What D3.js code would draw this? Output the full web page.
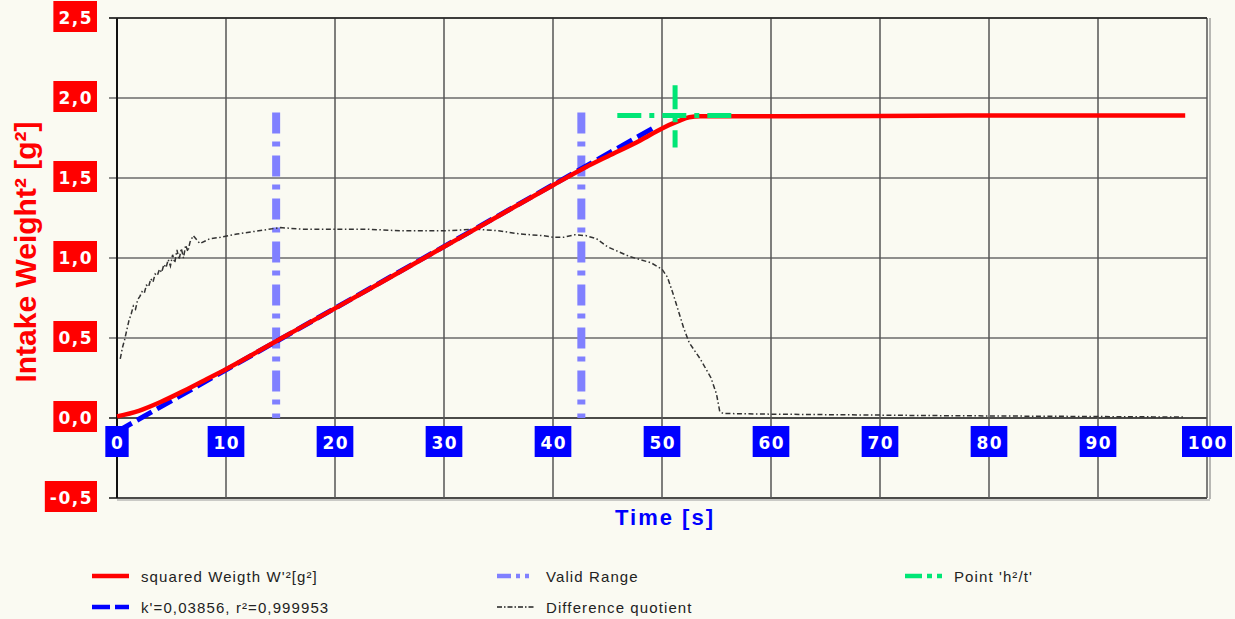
<!DOCTYPE html>
<html>
<head>
<meta charset='utf-8'>
<title>Intake Weight</title>
<script src='https://cdn.jsdelivr.net/npm/d3@7/dist/d3.min.js'></script>
<style>
    body { margin:0; background:#fafaf2; }
    svg { display:block; font-family:'Liberation Sans', Arial, sans-serif; }
</style>
</head>
<body>
<div id='chart'></div>
<script>
// axis ticks
var xTicks = [0, 10, 20, 30, 40, 50, 60, 70, 80, 90, 100];
var yTicks = [-0.5, 0, 0.5, 1.0, 1.5, 2.0, 2.5];

// squared weight W'^2 [g^2] (red)
var weightSeries = [[0,0.01],[2,0.045],[4,0.10],[6,0.165],[8,0.235],[10,0.305],[15,0.495],
    [20,0.685],[25,0.877],[30,1.07],[35,1.263],[40,1.455],[43,1.567],[45,1.635],[48,1.735],
    [50,1.81],[51.5,1.855],[52.5,1.88],[53.5,1.886],[60,1.886],[80,1.89],[98,1.89]];

// linear fit k'=0,03856 (blue)
var fitSeries = [[0,-0.085],[49.5,1.824]];

// valid range limits (time) and top
var validRange = [14.6, 42.6];
var validTop = 1.91;

// point h^2/t
var pointT = 51.2, pointV = 1.89;
var pointSpanT = [45.9, 56.4];
var pointSpanV = [1.69, 2.08];

// difference quotient (thin dash-dot)
var diffSeries = [[0.3,0.37],[0.5,0.44],[0.7,0.49],[0.9,0.55],[1.1,0.61],[1.3,0.65],[1.5,0.70],
    [1.7,0.68],[1.9,0.74],[2.1,0.76],[2.3,0.79],[2.5,0.78],[2.7,0.83],[2.9,0.82],[3.1,0.87],
    [3.3,0.85],[3.5,0.90],[3.7,0.89],[3.9,0.93],[4.1,0.91],[4.3,0.96],[4.5,0.94],[4.7,0.99],
    [4.9,0.95],[5.1,1.02],[5.3,0.97],[5.5,1.05],[5.7,0.99],[5.9,1.06],[6.1,1.00],[6.3,1.08],
    [6.5,1.04],[6.7,1.10],[7.0,1.14],[7.6,1.09],[8.5,1.12],[9.5,1.13],[11,1.15],[13,1.17],
    [15,1.19],[17,1.18],[20,1.18],[23,1.18],[26,1.17],[28,1.17],[30,1.17],[33,1.18],[35,1.17],
    [37,1.15],[39,1.14],[40,1.13],[41,1.13],[42,1.145],[43,1.14],[44,1.12],[45,1.07],[46,1.04],
    [47,1.01],[48,0.99],[49,0.97],[50,0.93],[50.5,0.88],[51,0.78],[51.5,0.67],[52,0.56],
    [52.5,0.47],[53,0.42],[53.5,0.37],[54,0.31],[54.5,0.25],[55,0.15],[55.3,0.04],[55.6,0.028],
    [57,0.027],[60,0.024],[65,0.021],[70,0.018],[75,0.015],[80,0.013],[85,0.011],[90,0.009],
    [95,0.007],[97.8,0.006]];

var legendLabels = ["squared Weigth W'\u00b2[g\u00b2]", "k'=0,03856, r\u00b2=0,999953",
    "Valid Range", "Difference quotient", "Point 'h\u00b2/t'"];

var w = 1235;
var h = 619;

var svg = d3.select('#chart').append('svg')
    .attr('width', w)
    .attr('height', h);

svg.append('rect').attr('width', w).attr('height', h).attr('fill', '#fafaf2');

var x = d3.scaleLinear().domain([0, 100]).range([117, 1207]);
var y = d3.scaleLinear().domain([-0.5, 2.5]).range([498, 18]);

var fmt = function(v) { return d3.format('.1f')(v).replace('.', ',').replace('\u2212', '-'); };
var labelFont = "'DejaVu Sans', Verdana, sans-serif";

// grid
svg.append('g').selectAll('line')
    .data(yTicks)
    .enter().append('line')
    .attr('x1', 109).attr('x2', x(100))
    .attr('y1', function(d) { return y(d); })
    .attr('y2', function(d) { return y(d); })
    .attr('stroke', function(d) { return (d === -0.5 || d === 0) ? '#111' : '#6a6a6a'; })
    .attr('stroke-width', function(d) { return (d === -0.5 || d === 0) ? 1.6 : 1.5; });

svg.append('g').selectAll('line')
    .data(xTicks)
    .enter().append('line')
    .attr('x1', function(d) { return x(d); })
    .attr('x2', function(d) { return x(d); })
    .attr('y1', y(2.5)).attr('y2', y(-0.5))
    .attr('stroke', function(d) { return d === 0 ? '#111' : '#555'; })
    .attr('stroke-width', function(d) { return d === 0 ? 2 : 1.5; });

// right frame double line
svg.append('line').attr('x1', x(100) + 3).attr('x2', x(100) + 3)
    .attr('y1', y(2.5)).attr('y2', y(-0.5) + 1)
    .attr('stroke', '#777').attr('stroke-width', 1);
svg.append('line').attr('x1', x(0)).attr('x2', x(100) + 3)
    .attr('y1', y(-0.5) + 2).attr('y2', y(-0.5) + 2)
    .attr('stroke', '#999').attr('stroke-width', 1);

// valid range
svg.append('g').selectAll('line')
    .data(validRange)
    .enter().append('line')
    .attr('x1', function(d) { return x(d); })
    .attr('x2', function(d) { return x(d); })
    .attr('y1', y(validTop)).attr('y2', y(0))
    .attr('stroke', '#8080ff')
    .attr('stroke-width', 8)
    .attr('stroke-dasharray', '21,8,5,9');

var line = d3.line()
    .x(function(d) { return x(d[0]); })
    .y(function(d) { return y(d[1]); });

// difference quotient
svg.append('path')
    .datum(diffSeries)
    .attr('d', line)
    .attr('fill', 'none')
    .attr('stroke', '#333')
    .attr('stroke-width', 1.5)
    .attr('stroke-dasharray', '5,2.5,1.5,2.5');

// fit
svg.append('path')
    .datum(fitSeries)
    .attr('d', line)
    .attr('fill', 'none')
    .attr('stroke', '#0000ff')
    .attr('stroke-width', 5)
    .attr('stroke-dasharray', '17,6');

// squared weight
svg.append('path')
    .datum(weightSeries)
    .attr('d', d3.line().x(function(d) { return x(d[0]); }).y(function(d) { return y(d[1]); })
        .curve(d3.curveMonotoneX))
    .attr('fill', 'none')
    .attr('stroke', '#ff0000')
    .attr('stroke-width', 4.5);

// point h2/t
var green = svg.append('g')
    .attr('stroke', '#00e676')
    .attr('stroke-width', 5)
    .attr('stroke-dasharray', '24,8,5,8');
green.append('line')
    .attr('x1', x(pointSpanT[0])).attr('x2', x(pointSpanT[1]))
    .attr('y1', y(pointV)).attr('y2', y(pointV));
green.append('line')
    .attr('x1', x(pointT)).attr('x2', x(pointT))
    .attr('y1', y(pointSpanV[1])).attr('y2', y(pointSpanV[0]));

// top frame
svg.append('line').attr('x1', 109).attr('x2', x(100)).attr('y1', y(2.5)).attr('y2', y(2.5))
    .attr('stroke', '#222').attr('stroke-width', 1.5);

// y labels (red boxes)
var yl = svg.append('g').selectAll('g')
    .data(yTicks)
    .enter().append('g');
yl.append('text')
    .attr('x', 93)
    .attr('y', function(d) { return y(d) + 6; })
    .attr('text-anchor', 'end')
    .attr('font-family', labelFont)
    .attr('font-size', '17px')
    .attr('font-weight', 'bold')
    .attr('letter-spacing', '1.5px')
    .attr('fill', '#fff')
    .text(fmt);
yl.each(function(d) {
    var g = d3.select(this);
    var b = g.select('text').node().getBBox();
    g.insert('rect', 'text')
        .attr('x', b.x - 5).attr('y', y(d) - 17)
        .attr('width', 97 - (b.x - 5)).attr('height', 31)
        .attr('fill', '#ff0000');
});

// x labels (blue boxes)
var xl = svg.append('g').selectAll('g')
    .data(xTicks)
    .enter().append('g');
xl.append('text')
    .attr('x', function(d) { return x(d) + 0.75; })
    .attr('y', 449)
    .attr('text-anchor', 'middle')
    .attr('font-family', labelFont)
    .attr('font-size', '17px')
    .attr('font-weight', 'bold')
    .attr('letter-spacing', '1.5px')
    .attr('fill', '#fff')
    .text(function(d) { return d; });
xl.each(function(d) {
    var g = d3.select(this);
    var b = g.select('text').node().getBBox();
    var bw = b.width + 10;
    g.insert('rect', 'text')
        .attr('x', x(d) - bw / 2).attr('y', 426)
        .attr('width', bw).attr('height', 31)
        .attr('fill', '#0000ff');
});

// axis titles
svg.append('text')
    .attr('transform', 'translate(36,252) rotate(-90)')
    .attr('text-anchor', 'middle')
    .attr('font-size', '30px')
    .attr('font-weight', 'bold')
    .attr('fill', '#ff0000')
    .text('Intake Weight\u00b2 [g\u00b2]');

svg.append('text')
    .attr('x', 665).attr('y', 525)
    .attr('text-anchor', 'middle')
    .attr('font-size', '22px')
    .attr('font-weight', 'bold')
    .attr('letter-spacing', '2px')
    .attr('fill', '#0000ff')
    .text('Time [s]');

// legend
var legendItems = [
    {x: 92, y: 576, color: '#ff0000', dash: null, width: 4.5},
    {x: 92, y: 607, color: '#0000ff', dash: '18,5', width: 4.5},
    {x: 497, y: 576, color: '#8080ff', dash: '14,5,4,5,4,5', width: 4.5},
    {x: 497, y: 607, color: '#222', dash: '5,2,1.5,2', width: 1.3},
    {x: 905, y: 576, color: '#00e676', dash: '17,5,5,5,5,5', width: 4.5}
];
var lg = svg.append('g').selectAll('g')
    .data(legendItems)
    .enter().append('g');
lg.append('line')
    .attr('x1', function(d) { return d.x; })
    .attr('x2', function(d) { return d.x + 37; })
    .attr('y1', function(d) { return d.y; })
    .attr('y2', function(d) { return d.y; })
    .attr('stroke', function(d) { return d.color; })
    .attr('stroke-width', function(d) { return d.width; })
    .attr('stroke-dasharray', function(d) { return d.dash; });
lg.append('text')
    .attr('x', function(d) { return d.x + 49; })
    .attr('y', function(d) { return d.y + 6; })
    .attr('font-size', '15px')
    .attr('letter-spacing', '1.1px')
    .attr('fill', '#222')
    .text(function(d, i) { return legendLabels[i]; });
</script>
</body>
</html>
